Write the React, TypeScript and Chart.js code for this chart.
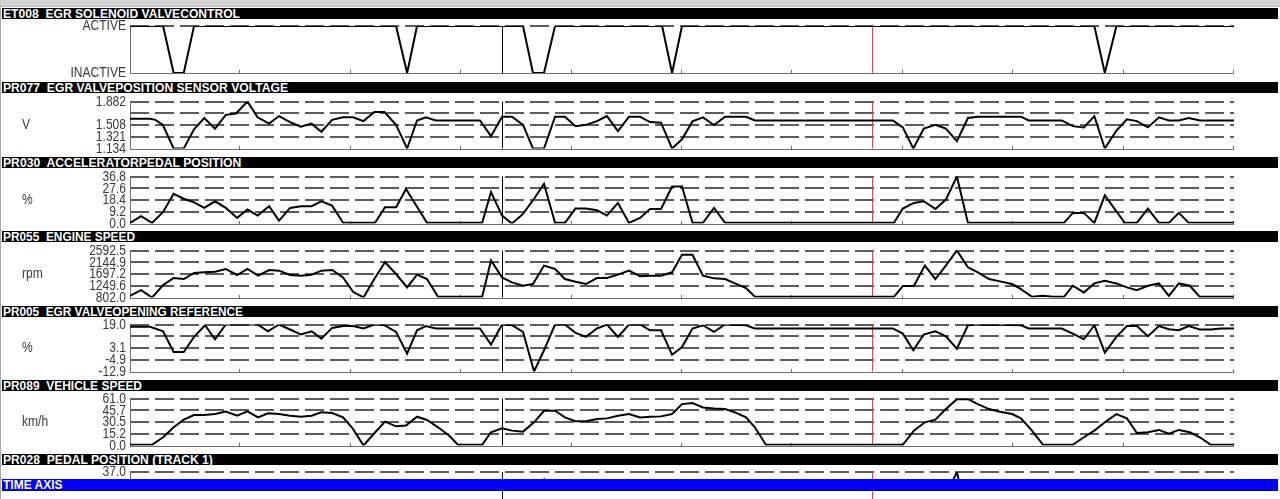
import React, { useEffect, useMemo, useRef } from 'react';
import { Chart, registerables } from 'chart.js';

Chart.register(...registerables);

// ---------------- data ----------------
const TIME_MIN = 0;
const TIME_MAX = 100;
const TIME_TICKS = [10, 20, 30, 40, 50, 60, 70, 80, 90, 100];
const CURSOR_TIMES = [33.7, 67.2];
const CURSOR_COLORS = ['#000000', '#c85050'];

// ET008 EGR solenoid valve control (1 = ACTIVE, 0 = INACTIVE)
const et008: [number, number][] = [
  [0, 1], [3.0, 1], [3.95, 0], [4.87, 0], [5.8, 1], [24.1, 1], [25.1, 0], [26.0, 1],
  [35.6, 1], [36.5, 0], [37.5, 0], [38.5, 1], [48.2, 1], [49.1, 0], [50.0, 1],
  [87.35, 1], [88.3, 0], [89.35, 1], [100, 1],
];
const et008Ticks = [0, 1];
const et008Labels = ['INACTIVE', 'ACTIVE'];

// PR077 EGR valve position sensor voltage (V)
const pr077: [number, number][] = [
  [0, 1.608], [1.83, 1.608], [2.3, 1.59], [2.97, 1.51], [3.95, 1.134], [4.87, 1.134], [5.8, 1.44],
  [6.73, 1.62], [7.7, 1.45], [8.68, 1.67], [9.6, 1.69], [10.64, 1.882], [11.56, 1.63], [12.6, 1.53],
  [13.5, 1.65], [14.5, 1.555], [15.47, 1.48], [16.45, 1.53], [17.33, 1.40], [18.31, 1.59], [19.3, 1.63],
  [20.2, 1.63], [21.15, 1.57], [22.13, 1.714], [23.05, 1.714], [24.1, 1.51], [25.1, 1.134], [26.0, 1.58],
  [26.8, 1.63], [27.7, 1.58], [31.7, 1.58], [32.7, 1.33], [33.7, 1.64], [34.6, 1.64], [35.6, 1.51],
  [36.5, 1.134], [37.5, 1.134], [38.5, 1.64], [39.4, 1.64], [40.35, 1.487], [41.3, 1.51], [42.3, 1.57],
  [43.2, 1.65], [44.2, 1.41], [45.2, 1.64], [46.2, 1.64], [47.1, 1.555], [48.1, 1.545], [49.1, 1.134],
  [50.0, 1.28], [50.95, 1.565], [51.9, 1.63], [52.9, 1.508], [53.9, 1.64], [55.8, 1.64], [56.6, 1.58],
  [69.1, 1.58], [70.0, 1.47], [70.95, 1.134], [71.9, 1.45], [72.95, 1.51], [73.9, 1.45], [74.9, 1.25],
  [75.9, 1.62], [76.8, 1.64], [80.7, 1.64], [81.4, 1.58], [84.4, 1.58], [85.4, 1.49], [86.4, 1.47],
  [87.35, 1.65], [88.3, 1.134], [89.35, 1.42], [90.3, 1.6], [91.2, 1.57], [92.2, 1.47], [93.2, 1.63],
  [94.1, 1.58], [95.0, 1.58], [95.9, 1.62], [96.9, 1.58], [100, 1.58],
];
const pr077Ticks = [1.134, 1.321, 1.508, 1.695, 1.882];
const pr077Labels = ['1.134', '1.321', '1.508', '', '1.882'];

// PR030 accelerator pedal position (%)
const pr030: [number, number][] = [
  [0, 0.5], [1.0, 5.7], [2.0, 0.5], [3.0, 9.1], [3.95, 23.3], [4.87, 19.4], [5.8, 16.6], [6.73, 12.2],
  [7.7, 17.4], [8.68, 12.2], [9.7, 4.4], [10.64, 10.9], [11.56, 6.2], [12.6, 13.5], [13.5, 2.3],
  [14.5, 12.2], [15.47, 13.5], [16.45, 13.5], [17.33, 17.4], [18.31, 14.0], [19.3, 0.5], [22.2, 0.5],
  [23.1, 12.7], [24.1, 12.7], [25.0, 27.0], [26.9, 0.5], [31.9, 0.5], [32.7, 24.6], [33.7, 6.2],
  [34.6, 0], [35.6, 7.5], [36.6, 19.4], [37.5, 31.1], [38.5, 0.5], [39.4, 0.5], [40.35, 11.7],
  [41.3, 11.7], [42.3, 10.4], [43.2, 6.2], [44.2, 16.1], [45.2, 0.5], [46.2, 4.4], [47.1, 11.4],
  [48.1, 11.4], [49.1, 29.0], [50.0, 29.0], [50.95, 0.5], [51.9, 0.5], [52.9, 12.2], [53.9, 0.5],
  [69.2, 0.5], [70.0, 11.7], [71.0, 16.1], [71.9, 17.4], [72.95, 11.4], [73.9, 18.7], [74.9, 36.8],
  [75.9, 0.5], [84.6, 0.5], [85.4, 8.3], [86.4, 8.3], [87.35, 0.5], [88.3, 22.0], [90.1, 0.5],
  [91.2, 0.5], [92.2, 11.7], [93.2, 0.5], [94.1, 0.5], [95.0, 8.3], [95.9, 0.5], [100, 0.5],
];
const pr030Ticks = [0, 9.2, 18.4, 27.6, 36.8];
const pr030Labels = ['0.0', '9.2', '18.4', '27.6', '36.8'];

// PR055 engine speed (rpm)
const pr055: [number, number][] = [
  [0, 866], [1.0, 1083], [2.0, 802], [3.0, 1275], [3.95, 1544], [4.87, 1505], [5.8, 1736], [6.73, 1761],
  [7.7, 1787], [8.68, 1889], [9.7, 1659], [10.64, 1889], [11.6, 1633], [12.6, 1850], [13.5, 1825],
  [14.5, 1659], [15.47, 1633], [16.45, 1672], [17.33, 1825], [18.31, 1850], [19.3, 1569], [20.2, 1020],
  [21.15, 802], [22.13, 1505], [23.1, 2145], [24.1, 1697], [25.1, 1186], [26.0, 1672], [26.9, 1505],
  [27.9, 828], [31.9, 828], [32.7, 2209], [33.7, 1569], [34.6, 1377], [35.6, 1250], [36.5, 1314],
  [37.5, 2017], [38.5, 1889], [39.4, 1505], [40.35, 1403], [41.3, 1314], [42.3, 1544], [43.2, 1544],
  [44.2, 1672], [45.2, 1825], [46.2, 1608], [47.1, 1633], [48.1, 1633], [49.1, 1761], [50.0, 2426],
  [50.95, 2426], [51.9, 1633], [52.9, 1531], [53.9, 1505], [54.8, 1339], [55.8, 1160], [56.6, 828],
  [69.2, 828], [70.0, 1237], [71.0, 1237], [72.0, 2017], [72.95, 1505], [73.9, 2017], [74.9, 2592],
  [75.9, 1953], [76.8, 1761], [77.8, 1505], [78.8, 1416], [79.9, 1314], [80.7, 1122], [81.7, 828],
  [82.7, 866], [83.6, 828], [84.6, 828], [85.4, 1250], [86.4, 994], [87.35, 1339], [88.3, 1441],
  [89.35, 1339], [90.3, 1186], [91.2, 1083], [92.2, 1250], [93.2, 1339], [94.1, 866], [95.0, 1339],
  [96.0, 1250], [96.9, 828], [100, 828],
];
const pr055Ticks = [802.0, 1249.6, 1697.2, 2144.9, 2592.5];
const pr055Labels = ['802.0', '1249.6', '1697.2', '2144.9', '2592.5'];

// PR005 EGR valve opening reference (%)
const pr005: [number, number][] = [
  [0, 17.4], [1.83, 17.4], [3.0, 14.4], [3.95, 0.3], [4.87, 0.3], [5.8, 10.6], [6.8, 18.5], [7.7, 9.0],
  [8.68, 19.0], [11.56, 19.0], [12.5, 14.4], [13.5, 19.0], [14.5, 15.6], [15.47, 12.2], [16.45, 14.4],
  [17.33, 9.4], [18.31, 16.7], [19.3, 17.9], [20.2, 17.9], [21.15, 16.3], [22.13, 19.0], [23.05, 18.5],
  [24.1, 14.0], [25.1, -0.8], [26.0, 15.1], [26.8, 17.9], [27.7, 16.3], [31.7, 16.3], [32.7, 5.3],
  [33.7, 19.0], [34.6, 18.5], [35.6, 14.0], [36.6, -12.9], [37.5, 1.5], [38.5, 19.0], [39.4, 19.0],
  [40.35, 13.3], [41.3, 10.6], [42.3, 16.3], [43.2, 19.0], [44.2, 10.6], [45.2, 19.0], [46.2, 19.0],
  [47.1, 15.1], [48.1, 15.1], [49.1, -1.5], [50.0, 3.7], [50.95, 16.3], [51.9, 18.5], [52.9, 14.0],
  [53.9, 19.0], [55.8, 18.5], [56.6, 16.3], [69.1, 16.3], [70.0, 12.8], [70.95, 1.5], [71.9, 12.2],
  [72.95, 14.4], [73.9, 11.05], [74.9, 2.6], [75.9, 18.5], [76.8, 19.0], [80.7, 18.5], [81.4, 16.3],
  [84.4, 16.3], [85.4, 12.8], [86.4, 9.0], [87.35, 18.5], [88.3, -0.1], [89.35, 10.6], [90.3, 17.9],
  [91.2, 17.9], [92.2, 11.05], [93.2, 17.9], [94.1, 15.8], [95.0, 15.1], [95.9, 17.9], [96.9, 15.6],
  [97.9, 15.6], [98.8, 16.3], [100, 16.3],
];
const pr005Ticks = [-12.9, -4.9, 3.1, 11.05, 19.0];
const pr005Labels = ['-12.9', '-4.9', '3.1', '', '19.0'];

// PR089 vehicle speed (km/h)
const pr089: [number, number][] = [
  [0, 0.9], [2.0, 0.9], [3.0, 10.7], [3.95, 23.6], [4.87, 33.5], [5.8, 39.5], [6.73, 39.5], [7.7, 40.8],
  [8.68, 44.2], [9.7, 38.7], [10.64, 44.2], [11.6, 36.5], [12.5, 41.7], [13.5, 40.8], [14.5, 38.7],
  [15.47, 37.4], [16.45, 38.7], [17.33, 43.0], [18.31, 42.1], [19.3, 36.5], [20.2, 21.5], [21.15, 0],
  [22.13, 15.9], [23.1, 30.9], [24.1, 24.9], [25.0, 25.8], [26.0, 37.4], [26.9, 33.1], [27.9, 23.6],
  [28.9, 12.9], [29.7, 0.9], [31.9, 0.9], [32.7, 17.2], [33.7, 22.3], [34.6, 19.3], [35.6, 18.0],
  [36.6, 30.1], [37.5, 45.1], [38.5, 45.1], [39.4, 36.5], [40.35, 31.4], [41.3, 31.4], [42.3, 34.4],
  [43.2, 35.2], [44.2, 38.7], [45.2, 40.8], [46.2, 36.5], [47.1, 37.4], [48.1, 37.8], [49.1, 40.8],
  [50.0, 53.7], [50.95, 55.0], [51.9, 49.4], [52.9, 48.1], [53.9, 47.3], [54.8, 43.0], [55.8, 36.5],
  [56.6, 23.6], [57.6, 0.9], [70.0, 0.9], [71.0, 19.3], [72.0, 30.1], [72.95, 33.5], [73.9, 47.3],
  [74.9, 60.1], [75.9, 60.1], [76.8, 53.7], [77.8, 47.3], [78.8, 43.8], [79.9, 40.8], [80.7, 35.2],
  [81.7, 19.3], [82.7, 0.9], [85.4, 0.9], [86.4, 10.7], [87.35, 19.3], [88.3, 30.1], [89.35, 40.8],
  [90.3, 35.2], [91.2, 16.3], [92.2, 17.2], [93.2, 20.2], [94.1, 15.2], [95.0, 20.2], [96.0, 17.2],
  [96.9, 10.7], [97.9, 0.9], [100, 0.9],
];
const pr089Ticks = [0, 15.2, 30.5, 45.7, 61.0];
const pr089Labels = ['0.0', '15.2', '30.5', '45.7', '61.0'];

// PR028 pedal position (track 1) (%) – only the top of this panel is visible
const pr028: [number, number][] = [
  [0, 0.5], [22.2, 0.5], [25.0, 27.0], [26.9, 0.5], [31.9, 0.5], [32.7, 24.6], [34.6, 0],
  [37.5, 31.0], [38.5, 0.5], [49.1, 29.0], [50.0, 29.0], [50.95, 0.5], [69.2, 0.5], [73.9, 18.7],
  [74.9, 37.0], [75.9, 0.5], [88.3, 22.0], [90.1, 0.5], [100, 0.5],
];
const pr028Ticks = [0, 9.25, 18.5, 27.75, 37.0];
const pr028Labels = ['', '', '', '', '37.0'];

const titles = [
  'ET008  EGR SOLENOID VALVECONTROL',
  'PR077  EGR VALVEPOSITION SENSOR VOLTAGE',
  'PR030  ACCELERATORPEDAL POSITION',
  'PR055  ENGINE SPEED',
  'PR005  EGR VALVEOPENING REFERENCE',
  'PR089  VEHICLE SPEED',
  'PR028  PEDAL POSITION (TRACK 1)',
];
const units = ['', 'V', '%', 'rpm', '%', 'km/h', '%'];

// ---------------- layout / style ----------------
const W = 1280;
const H = 499;
const PLOT_LEFT = 130;
const PLOT_RIGHT = 1234;
const HEADER_H = 11;
const HEADER_TOPS = [8, 82, 157, 231, 306, 380, 454];
const TITLE_WIDTHS = [237, 285, 239, 132, 240, 139, 210];
const PLOT_TOPS = [26, 101.5, 176.5, 250.5, 324.5, 398.5, 472];
const PLOT_H = 47;
const TIME_BAR_TOP = 479;
const TIME_BAR_H = 12;
const HEADER_FONT = 'bold 13px "Liberation Sans", Arial, sans-serif';
const LABEL_FONT = '14px "Liberation Sans", Arial, sans-serif';
const LABEL_SCALE = 0.86;
const LABEL_COLOR = '#3a3a3a';
const GRID_COLOR = '#5c5c5c';
const AXIS_COLOR = '#6e6e6e';

type PanelSpec = {
  data: [number, number][];
  min: number;
  max: number;
  ticks: number[];
  labels: string[];
  unit: string;
};

const SPECS: PanelSpec[] = [
  { data: et008, min: 0, max: 1, ticks: et008Ticks, labels: et008Labels, unit: units[0] },
  { data: pr077, min: 1.134, max: 1.882, ticks: pr077Ticks, labels: pr077Labels, unit: units[1] },
  { data: pr030, min: 0, max: 36.8, ticks: pr030Ticks, labels: pr030Labels, unit: units[2] },
  { data: pr055, min: 802.0, max: 2592.5, ticks: pr055Ticks, labels: pr055Labels, unit: units[3] },
  { data: pr005, min: -12.9, max: 19.0, ticks: pr005Ticks, labels: pr005Labels, unit: units[4] },
  { data: pr089, min: 0, max: 61.0, ticks: pr089Ticks, labels: pr089Labels, unit: units[5] },
  { data: pr028, min: 0, max: 37.0, ticks: pr028Ticks, labels: pr028Labels, unit: units[6] },
];

function drawText(ctx: CanvasRenderingContext2D, text: string, x: number, y: number, align: CanvasTextAlign) {
  ctx.save();
  ctx.translate(x, y);
  ctx.scale(LABEL_SCALE, 1);
  ctx.font = LABEL_FONT;
  ctx.fillStyle = LABEL_COLOR;
  ctx.textAlign = align;
  ctx.textBaseline = 'middle';
  ctx.fillText(text, 0, 0);
  ctx.restore();
}

function drawCursors(chart: any) {
  const { ctx, chartArea: a, scales } = chart;
  const x = scales.x;
  CURSOR_TIMES.forEach((t, i) => {
    const px = Math.round(x.getPixelForValue(t)) + 0.5;
    ctx.strokeStyle = CURSOR_COLORS[i];
    ctx.lineWidth = 1;
    ctx.beginPath();
    ctx.moveTo(px, a.top);
    ctx.lineTo(px, a.bottom);
    ctx.stroke();
  });
}

function makePanelPlugin(spec: PanelSpec) {
  return {
    id: 'panelDeco',
    beforeDatasetsDraw(chart: any) {
      const { ctx, chartArea: a, scales } = chart;
      const x = scales.x;
      const y = scales.y;
      ctx.save();
      // dashed horizontal grid lines
      ctx.strokeStyle = GRID_COLOR;
      ctx.lineWidth = 2;
      ctx.setLineDash([19, 6]);
      spec.ticks.forEach((v) => {
        if (v === spec.min) return;
        const py = Math.round(y.getPixelForValue(v));
        ctx.beginPath();
        ctx.moveTo(a.left, py);
        ctx.lineTo(a.right, py);
        ctx.stroke();
      });
      ctx.setLineDash([]);
      // axis lines
      const by = Math.round(y.getPixelForValue(spec.min)) + 0.5;
      const ty = Math.round(y.getPixelForValue(spec.max));
      ctx.strokeStyle = AXIS_COLOR;
      ctx.lineWidth = 1;
      ctx.beginPath();
      ctx.moveTo(a.left, by);
      ctx.lineTo(a.right, by);
      ctx.moveTo(a.left + 0.5, ty);
      ctx.lineTo(a.left + 0.5, by);
      ctx.stroke();
      // time ticks
      ctx.beginPath();
      TIME_TICKS.forEach((t) => {
        const px = Math.round(x.getPixelForValue(t)) - 0.5;
        ctx.moveTo(px, by);
        ctx.lineTo(px, by - 3.5);
      });
      ctx.stroke();
      drawCursors(chart);
      ctx.restore();
    },
    afterDraw(chart: any) {
      const { ctx, chartArea: a, scales } = chart;
      const y = scales.y;
      spec.ticks.forEach((v, i) => {
        const lbl = spec.labels[i];
        if (!lbl) return;
        drawText(ctx, lbl, a.left - 4, y.getPixelForValue(v) + 0.5, 'right');
      });
      if (spec.unit) drawText(ctx, spec.unit, 22, (a.top + a.bottom) / 2, 'left');
    },
  };
}

function Panel({ index }: { index: number }) {
  const ref = useRef<HTMLCanvasElement>(null);
  const spec = SPECS[index];
  const canvasTop = HEADER_TOPS[index] + HEADER_H;
  const isLast = index === SPECS.length - 1;
  const clipH = (isLast ? TIME_BAR_TOP : HEADER_TOPS[index + 1]) - canvasTop;
  const canvasH = isLast ? 70 : clipH;
  const plotTop = PLOT_TOPS[index];
  const plotBottom = plotTop + PLOT_H;

  useEffect(() => {
    const chart = new Chart(ref.current as HTMLCanvasElement, {
      type: 'line',
      data: {
        datasets: [
          {
            data: spec.data.map(([t, v]) => ({ x: t, y: v })),
            borderColor: '#000000',
            borderWidth: 2,
            pointRadius: 0,
            tension: 0,
            borderJoinStyle: 'miter',
            fill: false,
          },
        ],
      },
      options: {
        responsive: false,
        animation: false,
        events: [],
        layout: {
          padding: {
            left: PLOT_LEFT,
            right: W - PLOT_RIGHT,
            top: plotTop - canvasTop,
            bottom: canvasTop + canvasH - plotBottom,
          },
        },
        scales: {
          x: { type: 'linear', min: TIME_MIN, max: TIME_MAX, display: false },
          y: { type: 'linear', min: spec.min, max: spec.max, display: false },
        },
        plugins: { legend: { display: false }, tooltip: { enabled: false } },
      },
      plugins: [makePanelPlugin(spec)],
    } as any);
    return () => chart.destroy();
  }, []);

  return (
    <div style={{ position: 'absolute', left: 0, top: canvasTop, width: W, height: clipH, overflow: 'hidden' }}>
      <canvas ref={ref} width={W} height={canvasH} style={{ display: 'block' }} />
    </div>
  );
}

function TimeAxisStrip() {
  const ref = useRef<HTMLCanvasElement>(null);
  const top = TIME_BAR_TOP + TIME_BAR_H;
  const h = H - top;
  useEffect(() => {
    const chart = new Chart(ref.current as HTMLCanvasElement, {
      type: 'line',
      data: { datasets: [{ data: [] }] },
      options: {
        responsive: false,
        animation: false,
        events: [],
        layout: { padding: { left: PLOT_LEFT, right: W - PLOT_RIGHT, top: 0, bottom: 0 } },
        scales: {
          x: { type: 'linear', min: TIME_MIN, max: TIME_MAX, display: false },
          y: { type: 'linear', min: 0, max: 1, display: false },
        },
        plugins: { legend: { display: false }, tooltip: { enabled: false } },
      },
      plugins: [
        {
          id: 'timeCursors',
          afterDraw(chart: any) {
            chart.ctx.save();
            drawCursors(chart);
            chart.ctx.restore();
          },
        },
      ],
    } as any);
    return () => chart.destroy();
  }, []);
  return (
    <div style={{ position: 'absolute', left: 0, top, width: W, height: h, overflow: 'hidden' }}>
      <canvas ref={ref} width={W} height={h} style={{ display: 'block' }} />
    </div>
  );
}

function Bar({ top, text, width, bg, border }: { top: number; text: string; width: number; bg: string; border?: string }) {
  const scale = useMemo(() => {
    const c = document.createElement('canvas').getContext('2d') as CanvasRenderingContext2D;
    c.font = HEADER_FONT;
    const w = c.measureText(text).width;
    return w > 0 ? width / w : 1;
  }, [text, width]);
  return (
    <div
      style={{
        position: 'absolute',
        left: 2,
        top,
        width: 1276,
        height: HEADER_H,
        background: bg,
        overflow: 'hidden',
        borderBottom: border ? `1px solid ${border}` : undefined,
      }}
    >
      <span
        style={{
          position: 'absolute',
          left: 1,
          top: 0,
          font: HEADER_FONT,
          lineHeight: `${HEADER_H}px`,
          color: '#ffffff',
          whiteSpace: 'pre',
          transform: `scaleX(${scale})`,
          transformOrigin: 'left center',
        }}
      >
        {text}
      </span>
    </div>
  );
}

export default function App() {
  return (
    <div
      style={{
        position: 'fixed',
        left: 0,
        top: 0,
        width: W,
        height: H,
        background: '#ffffff',
        overflow: 'hidden',
        fontFamily: '"Liberation Sans", Arial, sans-serif',
      }}
    >
      <div style={{ position: 'absolute', left: 0, top: 0, width: W, height: 6, background: '#d2d2d2', borderBottom: '1px solid #b8b8b8' }} />
      <div style={{ position: 'absolute', left: 0, top: 7, width: 1, height: H - 7, background: '#a8a8a8' }} />
      {SPECS.map((_, i) => (
        <Panel key={'p' + i} index={i} />
      ))}
      {titles.map((t, i) => (
        <Bar key={'h' + i} top={HEADER_TOPS[i]} text={t} width={TITLE_WIDTHS[i]} bg="#000000" />
      ))}
      <Bar top={TIME_BAR_TOP} text="TIME AXIS" width={60} bg="#0000f4" border="#000060" />
      <TimeAxisStrip />
    </div>
  );
}
